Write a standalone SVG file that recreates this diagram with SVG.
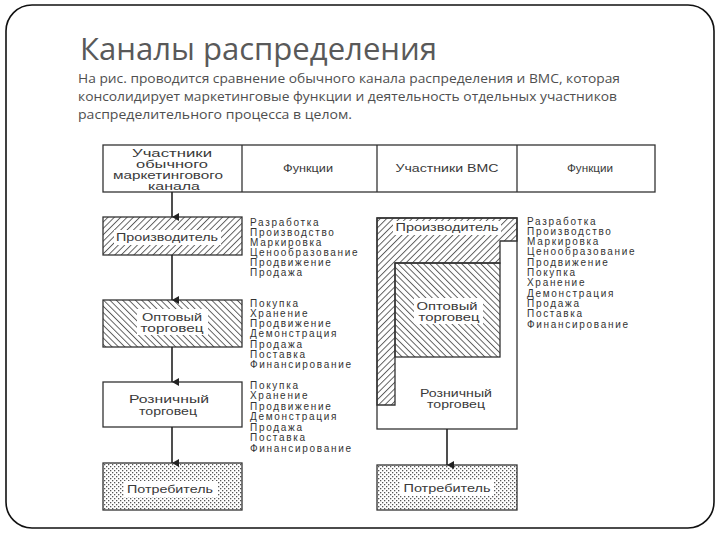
<svg xmlns="http://www.w3.org/2000/svg" width="720" height="540" viewBox="0 0 720 540">
<defs>
<pattern id="hatchF" patternUnits="userSpaceOnUse" width="4.5" height="10" patternTransform="rotate(45)"><line x1="0.5" y1="0" x2="0.5" y2="10" stroke="#333" stroke-width="0.8"/></pattern>
<pattern id="hatchB" patternUnits="userSpaceOnUse" width="4.5" height="10" patternTransform="rotate(-45)"><line x1="0.5" y1="0" x2="0.5" y2="10" stroke="#333" stroke-width="0.8"/></pattern>
<pattern id="dots" patternUnits="userSpaceOnUse" width="4" height="4"><rect x="0" y="0" width="1.3" height="1.3" fill="#555"/><rect x="2" y="2" width="1.3" height="1.3" fill="#555"/></pattern>
<marker id="arr" markerUnits="userSpaceOnUse" markerWidth="8" markerHeight="8" refX="4" refY="7" orient="auto-start-reverse" viewBox="0 0 8 8"><path d="M0,0 L8,0 L4,7 Z" fill="#222"/></marker>
<style>
.box{fill:#fff;stroke:#333;stroke-width:1.3}
.lbl{font-family:"Liberation Sans",Arial,sans-serif;font-size:10.5px;fill:#3a3a3a;text-anchor:middle}
.fn{font-family:"Liberation Sans",Arial,sans-serif;font-size:10px;fill:#333;letter-spacing:1.7px}
.bg{fill:#fff}
.con{stroke:#222;stroke-width:1.6;fill:none}
</style>
</defs>
<rect x="6" y="5" width="708" height="523" rx="26" ry="26" fill="#fff" stroke="#111" stroke-width="1.6"/>
<text x="80" y="60" font-family="'Open Sans','Noto Sans',sans-serif" font-size="31" fill="#595959" textLength="357" lengthAdjust="spacingAndGlyphs">Каналы распределения</text>
<g font-family="'Open Sans','Noto Sans',sans-serif" font-size="12.5" fill="#4f4f4f">
<text x="78" y="83" textLength="542" lengthAdjust="spacingAndGlyphs">На рис. проводится сравнение обычного канала распределения и ВМС, которая</text>
<text x="78" y="101" textLength="539" lengthAdjust="spacingAndGlyphs">консолидирует маркетинговые функции и деятельность отдельных участников</text>
<text x="78" y="119" textLength="274" lengthAdjust="spacingAndGlyphs">распределительного процесса в целом.</text>
</g>
<g id="header">
<rect class="box" x="103" y="145" width="552" height="47"/>
<line x1="242" y1="145" x2="242" y2="192" stroke="#333" stroke-width="1.3"/>
<line x1="377" y1="145" x2="377" y2="192" stroke="#333" stroke-width="1.3"/>
<line x1="517" y1="145" x2="517" y2="192" stroke="#333" stroke-width="1.3"/>
<text class="lbl" x="172" y="157" textLength="80" lengthAdjust="spacingAndGlyphs">Участники</text>
<text class="lbl" x="172" y="168" textLength="72" lengthAdjust="spacingAndGlyphs">обычного</text>
<text class="lbl" x="168" y="179" textLength="110" lengthAdjust="spacingAndGlyphs">маркетингового</text>
<text class="lbl" x="174" y="190" textLength="52" lengthAdjust="spacingAndGlyphs">канала</text>
<text class="lbl" x="308" y="172" textLength="50" lengthAdjust="spacingAndGlyphs">Функции</text>
<text class="lbl" x="447" y="172" textLength="103" lengthAdjust="spacingAndGlyphs">Участники ВМС</text>
<text class="lbl" x="590" y="172" textLength="46" lengthAdjust="spacingAndGlyphs">Функции</text>
</g>
<g id="left-producer">
<rect x="103" y="217" width="139" height="38" fill="url(#hatchF)" stroke="#333" stroke-width="1.3"/>
<rect class="bg" x="114" y="230" width="107" height="15"/>
<text class="lbl" x="167" y="241" textLength="102" lengthAdjust="spacingAndGlyphs">Производитель</text>
</g>
<g id="left-wholesaler">
<rect x="103" y="300" width="139" height="47" fill="url(#hatchB)" stroke="#333" stroke-width="1.3"/>
<rect class="bg" x="137" y="309" width="71" height="26"/>
<text class="lbl" x="172" y="321" textLength="60" lengthAdjust="spacingAndGlyphs">Оптовый</text>
<text class="lbl" x="172" y="332" textLength="63" lengthAdjust="spacingAndGlyphs">торговец</text>
</g>
<g id="left-retailer">
<rect class="box" x="103" y="382" width="139" height="45"/>
<text class="lbl" x="169" y="403" textLength="80" lengthAdjust="spacingAndGlyphs">Розничный</text>
<text class="lbl" x="168" y="415" textLength="58" lengthAdjust="spacingAndGlyphs">торговец</text>
</g>
<g id="left-consumer">
<rect x="103" y="463" width="139" height="47" fill="url(#dots)" stroke="#333" stroke-width="1.3"/>
<rect class="bg" x="124" y="481" width="94" height="16"/>
<text class="lbl" x="170" y="493" textLength="86" lengthAdjust="spacingAndGlyphs">Потребитель</text>
</g>
<g id="right-vms">
<rect class="box" x="377" y="218" width="140" height="211"/>
<path d="M377,218 H517 V241 H500 V263 H395 V405 H377 Z" fill="url(#hatchF)" stroke="#333" stroke-width="1.3"/>
<rect x="395" y="263" width="105" height="94" fill="url(#hatchB)" stroke="#333" stroke-width="1.3"/>
<rect class="bg" x="393" y="221" width="108" height="14"/>
<text class="lbl" x="447" y="231" textLength="103" lengthAdjust="spacingAndGlyphs">Производитель</text>
<rect class="bg" x="414" y="298" width="69" height="26"/>
<text class="lbl" x="447" y="310" textLength="61" lengthAdjust="spacingAndGlyphs">Оптовый</text>
<text class="lbl" x="449" y="321" textLength="61" lengthAdjust="spacingAndGlyphs">торговец</text>
<text class="lbl" x="456" y="397" textLength="72" lengthAdjust="spacingAndGlyphs">Розничный</text>
<text class="lbl" x="456" y="408" textLength="58" lengthAdjust="spacingAndGlyphs">торговец</text>
</g>
<g id="right-consumer">
<rect x="377" y="465" width="140" height="45" fill="url(#dots)" stroke="#333" stroke-width="1.3"/>
<rect class="bg" x="400" y="480" width="94" height="16"/>
<text class="lbl" x="447" y="492" textLength="87" lengthAdjust="spacingAndGlyphs">Потребитель</text>
</g>
<g id="functions-producer" class="fn">
<text x="250" y="225.5">Разработка</text>
<text x="250" y="235.5">Производство</text>
<text x="250" y="245.5">Маркировка</text>
<text x="250" y="255.5">Ценообразование</text>
<text x="250" y="265.5">Продвижение</text>
<text x="250" y="275.5">Продажа</text>
</g>
<g id="functions-wholesaler" class="fn">
<text x="250" y="306.5">Покупка</text>
<text x="250" y="316.8">Хранение</text>
<text x="250" y="327.1">Продвижение</text>
<text x="250" y="337.4">Демонстрация</text>
<text x="250" y="347.7">Продажа</text>
<text x="250" y="358">Поставка</text>
<text x="250" y="368.3">Финансирование</text>
</g>
<g id="functions-retailer" class="fn">
<text x="250" y="388.5">Покупка</text>
<text x="250" y="399">Хранение</text>
<text x="250" y="409.5">Продвижение</text>
<text x="250" y="420">Демонстрация</text>
<text x="250" y="430.5">Продажа</text>
<text x="250" y="441">Поставка</text>
<text x="250" y="451.5">Финансирование</text>
</g>
<g id="functions-vms" class="fn">
<text x="527" y="224.5">Разработка</text>
<text x="527" y="234.8">Производство</text>
<text x="527" y="245.1">Маркировка</text>
<text x="527" y="255.4">Ценообразование</text>
<text x="527" y="265.7">Продвижение</text>
<text x="527" y="276">Покупка</text>
<text x="527" y="286.3">Хранение</text>
<text x="527" y="296.6">Демонстрация</text>
<text x="527" y="306.9">Продажа</text>
<text x="527" y="317.2">Поставка</text>
<text x="527" y="327.5">Финансирование</text>
</g>
<g id="connectors">
<path class="con" d="M172,192 V217" marker-end="url(#arr)"/>
<path class="con" d="M172,255 V300" marker-end="url(#arr)"/>
<path class="con" d="M172,347 V382" marker-end="url(#arr)"/>
<path class="con" d="M172,427 V463" marker-end="url(#arr)"/>
<path class="con" d="M447,429 V465" marker-end="url(#arr)"/>
</g>
</svg>
